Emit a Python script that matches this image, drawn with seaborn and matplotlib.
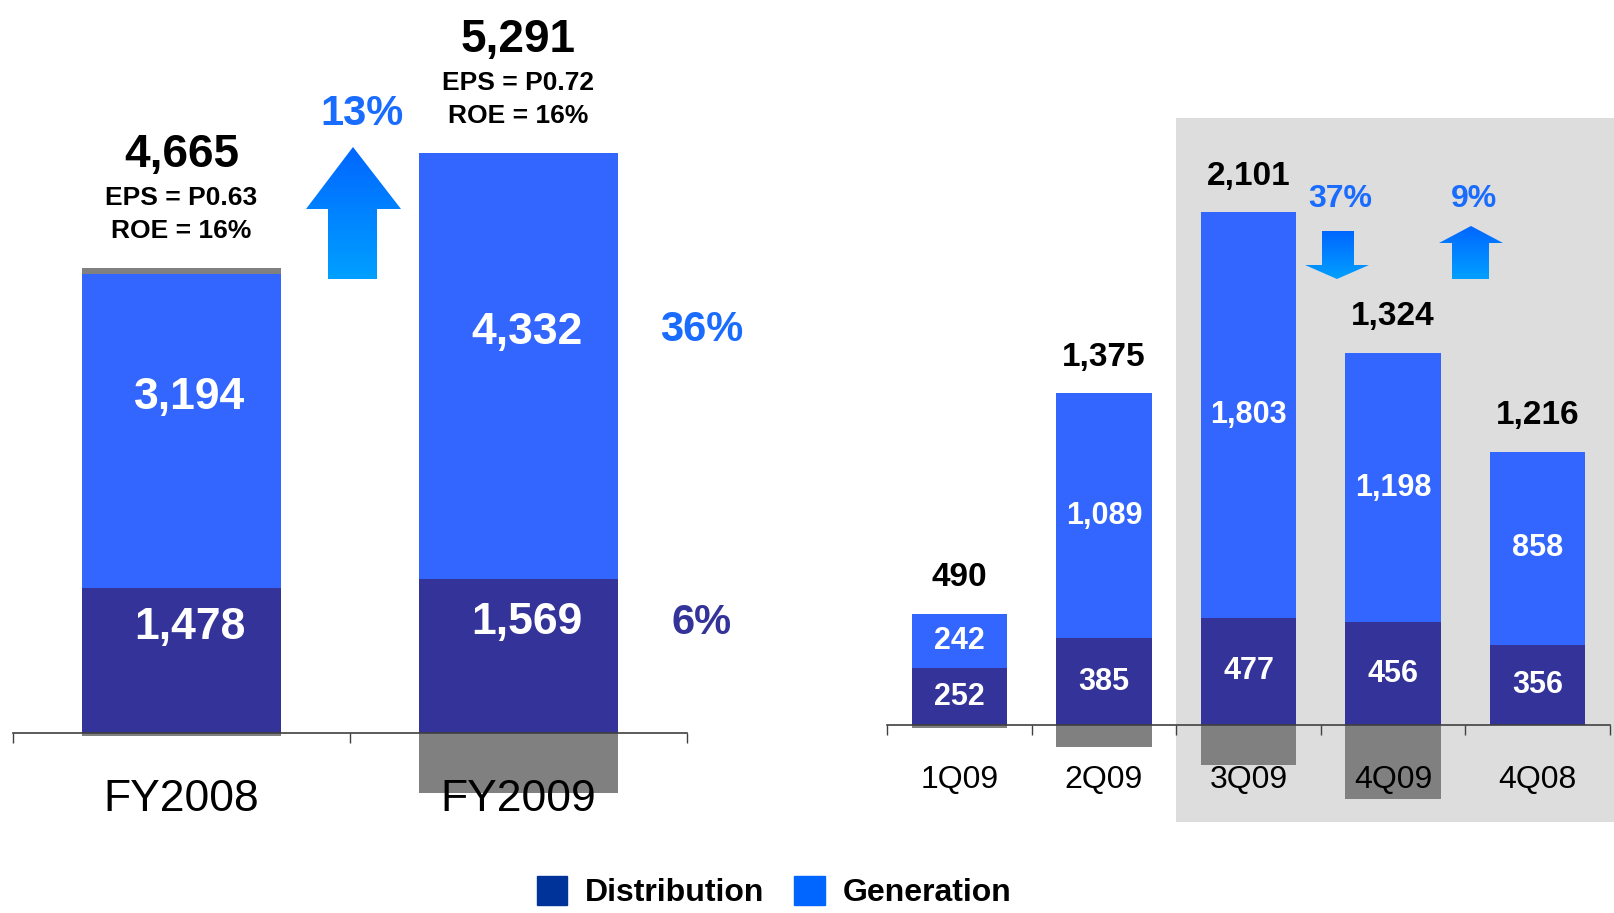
import numpy as np
import seaborn as sns
import matplotlib.pyplot as plt
from matplotlib.patches import Polygon, Patch
from matplotlib.colors import LinearSegmentedColormap

# annual figures
years = ["FY2008", "FY2009"]
year_dist = [1478, 1569]
year_gen = [3194, 4332]
year_total = [4665, 5291]
year_eps = ["EPS = P0.63", "EPS = P0.72"]
year_roe = ["ROE = 16%", "ROE = 16%"]
year_other_up = [55, 0]
year_other_down = [-30, -610]
growth_gen = "36%"
growth_dist = "6%"
growth_total = "13%"

# quarterly figures
quarters = ["1Q09", "2Q09", "3Q09", "4Q09", "4Q08"]
q_dist = [252, 385, 477, 456, 356]
q_gen = [242, 1089, 1803, 1198, 858]
q_total = [490, 1375, 2101, 1324, 1216]
q_other_down = [-14, -99, -179, -330, 0]
q_change_down = "37%"
q_change_up = "9%"

GEN = "#3366FF"
DIST = "#333399"
OTHER = "#808080"
SHADE = "#DDDDDD"
PCT = "#1A6CFF"

W, H = 1614, 913

sns.set_theme(style="white")
FONT = ["Liberation Sans", "DejaVu Sans"]
plt.rcParams["font.family"] = FONT
plt.rcParams["text.color"] = "black"


def px_box(x0, y0, x1, y1):
    return [x0 / W, 1 - y1 / H, (x1 - x0) / W, (y1 - y0) / H]


def stacked(ax, cats, dist, gen, up, down, width):
    d = np.array(dist)
    g = np.array(gen)
    u = np.array(up)
    kw = dict(ax=ax, width=width, saturation=1, errorbar=None, linewidth=0)
    if u.any():
        sns.barplot(x=cats, y=d + g + u, color=OTHER, **kw)
    sns.barplot(x=cats, y=d + g, color=GEN, **kw)
    sns.barplot(x=cats, y=d, color=DIST, **kw)
    sns.barplot(x=cats, y=down, color=OTHER, **kw)


def style_axis(ax, n, pad, size):
    ax.set_axisbelow(False)
    ax.set_xlim(-0.5, n - 0.5)
    for s in ["top", "left", "right"]:
        ax.spines[s].set_visible(False)
    ax.spines["bottom"].set_position(("data", 0))
    ax.spines["bottom"].set_color("#404040")
    ax.spines["bottom"].set_linewidth(1.2)
    ax.set_yticks([])
    ax.set_xticks(np.arange(-0.5, n, 1.0), minor=True)
    ax.tick_params(axis="x", which="minor", length=7, width=1.0,
                   color="#404040", direction="out", bottom=True)
    ax.tick_params(axis="x", which="major", length=0, pad=pad,
                   labelsize=size, labelcolor="black", bottom=True)
    ax.set_xlabel("")
    ax.set_ylabel("")
    ax.patch.set_alpha(0)


fig = plt.figure(figsize=(W / 100, H / 100), dpi=100)

# ---- annual panel ----
zero_l, k_l = 733, 0.0983
axl = fig.add_axes(px_box(13, 20, 687, 822))
stacked(axl, years, year_dist, year_gen, year_other_up, year_other_down, 0.59)
axl.set_ylim(-(822 - zero_l) / k_l, (zero_l - 20) / k_l)
style_axis(axl, 2, 33, 32)

for i in range(2):
    top = year_dist[i] + year_gen[i] + year_other_up[i]
    axl.annotate(f"{year_total[i]:,}", (i, top), xytext=(0, 113),
                 textcoords="offset pixels", ha="center", va="center",
                 fontsize=33, fontweight="bold")
    axl.annotate(year_eps[i], (i, top), xytext=(0, 70),
                 textcoords="offset pixels", ha="center", va="center",
                 fontsize=19, fontweight="bold")
    axl.annotate(year_roe[i], (i, top), xytext=(0, 37),
                 textcoords="offset pixels", ha="center", va="center",
                 fontsize=19, fontweight="bold")
    axl.annotate(f"{year_gen[i]:,}", (i, year_dist[i] + year_gen[i] / 2),
                 xytext=(8, 33), textcoords="offset pixels", ha="center",
                 va="center", fontsize=32, fontweight="bold", color="white")
    axl.annotate(f"{year_dist[i]:,}", (i, year_dist[i] / 2),
                 xytext=(8, 33), textcoords="offset pixels", ha="center",
                 va="center", fontsize=32, fontweight="bold", color="white")

axl.annotate(growth_gen, (1, year_dist[1] + year_gen[1] / 2), xytext=(183, 36),
             textcoords="offset pixels", ha="center", va="center",
             fontsize=30, fontweight="bold", color=PCT)
axl.annotate(growth_dist, (1, year_dist[1] / 2), xytext=(183, 33),
             textcoords="offset pixels", ha="center", va="center",
             fontsize=30, fontweight="bold", color=DIST)

# ---- quarterly panel ----
zero_r, k_r = 725, 0.225
axr = fig.add_axes(px_box(887, 118, 1610, 822))
axr.axvspan(1.5, 4.53, color=SHADE, zorder=0, clip_on=False, lw=0)
stacked(axr, quarters, q_dist, q_gen, [0] * 5, q_other_down, 0.66)
axr.set_ylim(-(822 - zero_r) / k_r, (zero_r - 118) / k_r)
style_axis(axr, 5, 29, 23)

for i in range(5):
    top = q_dist[i] + q_gen[i]
    axr.annotate(f"{q_total[i]:,}", (i, top), xytext=(0, 36),
                 textcoords="offset pixels", ha="center", va="center",
                 fontsize=24, fontweight="bold")
    axr.text(i, q_dist[i] + q_gen[i] / 2, f"{q_gen[i]:,}", ha="center",
             va="center", fontsize=22, fontweight="bold", color="white")
    axr.text(i, q_dist[i] / 2, f"{q_dist[i]:,}", ha="center",
             va="center", fontsize=22, fontweight="bold", color="white")

# ---- arrows and change labels (pixel overlay) ----
ov = fig.add_axes([0, 0, 1, 1], zorder=10)
ov.axis("off")
grad_map = LinearSegmentedColormap.from_list("arrow", ["#0066FF", "#00A0FF"])


def grad_arrow(pts):
    poly = Polygon(pts, closed=True, facecolor="none", edgecolor="none")
    ov.add_patch(poly)
    xs = [p[0] for p in pts]
    ys = [p[1] for p in pts]
    im = ov.imshow(np.linspace(0, 1, 256).reshape(-1, 1), cmap=grad_map,
                   extent=(min(xs), max(xs), max(ys), min(ys)),
                   aspect="auto", interpolation="bilinear")
    im.set_clip_path(poly)


grad_arrow([(353, 147), (401, 209), (377, 209), (377, 279), (328, 279),
            (328, 209), (306, 209)])
grad_arrow([(1322, 231), (1354, 231), (1354, 265), (1369, 265), (1337, 279),
            (1305, 265), (1322, 265)])
grad_arrow([(1471, 226), (1503, 243), (1489, 243), (1489, 279), (1452, 279),
            (1452, 243), (1439, 243)])
ov.set_xlim(0, W)
ov.set_ylim(H, 0)

ov.text(362, 114, growth_total, ha="center", va="center", fontsize=30,
        fontweight="bold", color=PCT)
ov.text(1340, 199, q_change_down, ha="center", va="center", fontsize=23,
        fontweight="bold", color=PCT)
ov.text(1474, 199, q_change_up, ha="center", va="center", fontsize=23,
        fontweight="bold", color=PCT)

handles = [Patch(color="#003399", label="Distribution"),
           Patch(color="#0066FF", label="Generation")]
fig.legend(handles=handles, loc="center", bbox_to_anchor=(774 / W, 1 - 892 / H),
           ncol=2, frameon=False, handlelength=0.95, handleheight=1.05,
           handletextpad=0.55, columnspacing=0.95,
           prop={"family": FONT, "weight": "bold", "size": 23})

fig.savefig("out.png", dpi=100)
